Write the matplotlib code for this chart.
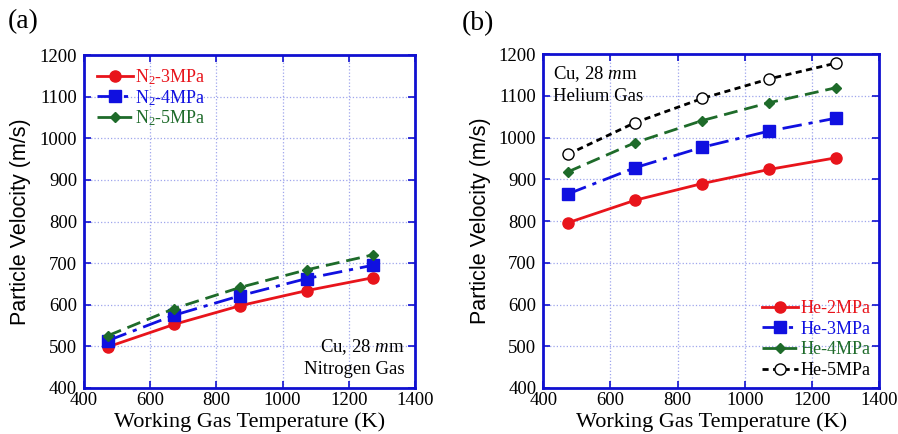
import matplotlib
matplotlib.use("Agg")
import matplotlib.pyplot as plt

plt.rcParams['font.family'] = ['Liberation Serif', 'DejaVu Serif']
plt.rcParams['mathtext.fontset'] = 'custom'
plt.rcParams['mathtext.rm'] = 'Liberation Serif'
plt.rcParams['mathtext.it'] = 'Liberation Serif:italic'

temps = [473, 673, 873, 1073, 1273]

n2_labels = ['N$_2$-3MPa', 'N$_2$-4MPa', 'N$_2$-5MPa']
n2_3 = [499, 553, 598, 634, 665]
n2_4 = [514, 575, 622, 663, 695]
n2_5 = [526, 591, 642, 684, 720]

he_labels = ['He-2MPa', 'He-3MPa', 'He-4MPa', 'He-5MPa']
he_2 = [796, 850, 890, 924, 952]
he_3 = [865, 928, 977, 1016, 1047]
he_4 = [918, 988, 1041, 1084, 1120]
he_5 = [960, 1036, 1094, 1141, 1179]

xticks = [400, 600, 800, 1000, 1200, 1400]
yticks = [400, 500, 600, 700, 800, 900, 1000, 1100, 1200]

fig = plt.figure(figsize=(8.98, 4.34), dpi=100)
axa = fig.add_axes([0.0935, 0.106, 0.3685, 0.767])
axb = fig.add_axes([0.605, 0.106, 0.374, 0.769])

styles = [
    dict(color='#e8141b', ls='-', marker='o', ms=8, mfc='#e8141b'),
    dict(color='#1010e0', ls=(0, (7, 2.5, 1.5, 2.5)), marker='s', ms=8, mfc='#1010e0'),
    dict(color='#1e6b2a', ls=(0, (5, 2.5)), marker='D', ms=5, mfc='#1e6b2a'),
    dict(color='black', ls=(0, (2.2, 1.6)), marker='o', ms=8, mfc='white'),
]

for ax in (axa, axb):
    ax.set_xlim(400, 1400)
    ax.set_ylim(400, 1200)
    ax.set_xticks(xticks)
    ax.set_yticks(yticks)
    ax.grid(True, color='#9fa5ec', ls=':', lw=0.9)
    ax.set_axisbelow(True)
    for s in ax.spines.values():
        s.set_color('#1010d0')
        s.set_linewidth(2)
    ax.tick_params(direction='in', length=5, width=1.2, color='#1010d0',
                   top=True, right=True, labelsize=13.5)
    ax.tick_params(axis='y', pad=5)
    ax.tick_params(axis='x', pad=3)
    ax.set_xlabel('Working Gas Temperature (K)', fontsize=16, labelpad=2)
    ax.set_ylabel('Particle Velocity (m/s)', fontsize=15.5, family='Liberation Sans', labelpad=6)

for ys, lab, st in zip([n2_3, n2_4, n2_5], n2_labels, styles[:3]):
    axa.plot(temps, ys, label=lab, lw=2, mec=st['color'], **st)
for ys, lab, st in zip([he_2, he_3, he_4, he_5], he_labels, styles):
    axb.plot(temps, ys, label=lab, lw=2, mec=st['color'], **st)

la = axa.legend(loc='upper left', frameon=False, fontsize=13, handlelength=2.0,
                handletextpad=0.1, labelspacing=0.02, borderaxespad=0.3,
                labelcolor='linecolor')
lb = axb.legend(loc='lower right', frameon=False, fontsize=13, handlelength=2.0,
                handletextpad=0.1, labelspacing=0.2, borderaxespad=0.1,
                labelcolor='linecolor')

axa.text(0.97, 0.03, 'Cu, 28 $\\mathit{m}$m\nNitrogen Gas', transform=axa.transAxes,
         ha='right', va='bottom', fontsize=13.5, linespacing=1.3)
axb.text(0.03, 0.97, 'Cu, 28 $\\mathit{m}$m\nHelium Gas', transform=axb.transAxes,
         ha='left', va='top', fontsize=13.5, linespacing=1.3)

fig.text(0.009, 0.98, '(a)', fontsize=20, va='top', ha='left')
fig.text(0.514, 0.975, '(b)', fontsize=20, va='top', ha='left')

fig.savefig('out.png', dpi=100)
